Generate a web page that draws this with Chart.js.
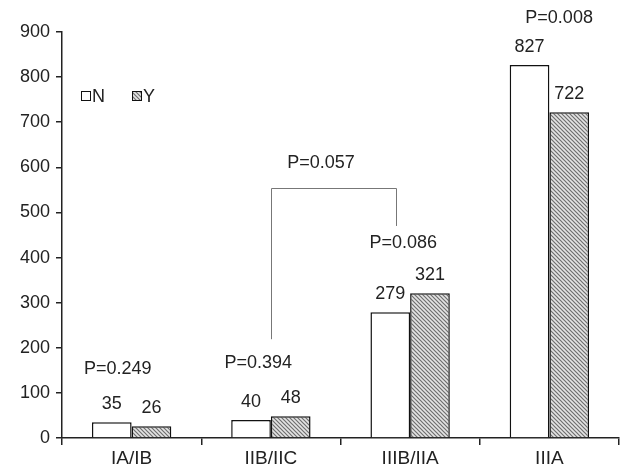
<!DOCTYPE html>
<html>
<head>
<meta charset="utf-8">
<script src="https://cdn.jsdelivr.net/npm/chart.js@4/dist/chart.umd.min.js"></script>
<style>
  html, body { margin: 0; padding: 0; background: #fff; }
  #wrap { width: 624px; height: 469px; }
</style>
</head>
<body>
<div id="wrap"><canvas id="chart" width="624" height="469"></canvas></div>
<script>
// Data
const categories = ['IA/IB', 'IIB/IIC', 'IIIB/IIA', 'IIIA'];
const seriesN = [35, 40, 279, 827];
const seriesY = [26, 48, 321, 722];
const pLabels = ['P=0.249', 'P=0.394', 'P=0.086', 'P=0.008'];
const bracketLabel = 'P=0.057';

// Annotation placement (category index offset, value on y scale)
const pLabelPos = [[-0.10, 153], [0.91, 166], [1.95, 432], [3.07, 931]];
const bracketPos = { left: 1.0, right: 1.9, top: 554, leftBottom: 219, rightBottom: 470, textX: 1.36, textY: 610 };

const FONT = '"Liberation Sans", Arial, sans-serif';
const INK = '#222';

// Hatched fill for the Y series
function makeHatch() {
  const c = document.createElement('canvas');
  c.width = 4; c.height = 4;
  const g = c.getContext('2d');
  g.fillStyle = '#e4e4e4';
  g.fillRect(0, 0, 4, 4);
  g.strokeStyle = '#6e6e6e';
  g.lineWidth = 1.2;
  g.beginPath();
  g.moveTo(0, 0); g.lineTo(4, 4);
  g.moveTo(-2, 2); g.lineTo(2, 6);
  g.moveTo(2, -2); g.lineTo(6, 2);
  g.stroke();
  return g.createPattern(c, 'repeat');
}
const hatch = makeHatch();

// Value labels, p-values, bracket and legend
const annotations = {
  id: 'annotations',
  afterDatasetsDraw(chart) {
    const ctx = chart.ctx;
    const xs = chart.scales.x, ys = chart.scales.y;
    const step = xs.getPixelForValue(1) - xs.getPixelForValue(0);
    const xAt = v => xs.getPixelForValue(0) + v * step;

    ctx.save();
    ctx.fillStyle = INK;
    ctx.font = '18px ' + FONT;
    ctx.textAlign = 'center';
    ctx.textBaseline = 'middle';

    // numbers above bars
    chart.data.datasets.forEach((ds, di) => {
      chart.getDatasetMeta(di).data.forEach((bar, i) => {
        ctx.fillText(String(ds.data[i]), bar.x, bar.y - 18);
      });
    });

    // p-values
    pLabels.forEach((t, i) => {
      const p = pLabelPos[i];
      ctx.fillText(t, xAt(p[0]), ys.getPixelForValue(p[1]));
    });

    // bracket between IIB/IIC and IIIB/IIA
    ctx.strokeStyle = '#777';
    ctx.lineWidth = 1;
    ctx.beginPath();
    ctx.moveTo(Math.round(xAt(bracketPos.left)) + 0.5, ys.getPixelForValue(bracketPos.leftBottom));
    ctx.lineTo(Math.round(xAt(bracketPos.left)) + 0.5, Math.round(ys.getPixelForValue(bracketPos.top)) + 0.5);
    ctx.lineTo(Math.round(xAt(bracketPos.right)) + 0.5, Math.round(ys.getPixelForValue(bracketPos.top)) + 0.5);
    ctx.lineTo(Math.round(xAt(bracketPos.right)) + 0.5, ys.getPixelForValue(bracketPos.rightBottom));
    ctx.stroke();
    ctx.fillText(bracketLabel, xAt(bracketPos.textX), ys.getPixelForValue(bracketPos.textY));

    // legend
    const items = [{ label: 'N', fill: '#fff', x: 81 }, { label: 'Y', fill: hatch, x: 132 }];
    ctx.textAlign = 'left';
    items.forEach(it => {
      ctx.fillStyle = it.fill;
      ctx.fillRect(it.x, 91, 10, 10);
      ctx.strokeStyle = '#111';
      ctx.lineWidth = 1;
      ctx.strokeRect(it.x + 0.5, 91.5, 9, 9);
      ctx.fillStyle = INK;
      ctx.fillText(it.label, it.x + 11, 97);
    });
    ctx.restore();
  }
};

new Chart(document.getElementById('chart'), {
  type: 'bar',
  data: {
    labels: categories,
    datasets: [
      { label: 'N', data: seriesN, backgroundColor: '#fff', borderColor: '#111', borderWidth: 1.5 },
      { label: 'Y', data: seriesY, backgroundColor: hatch, borderColor: '#111', borderWidth: 1.5 }
    ]
  },
  options: {
    responsive: false,
    animation: false,
    layout: { padding: { top: 32, right: 5, left: 0, bottom: 0 } },
    datasets: { bar: { barPercentage: 1, categoryPercentage: 0.57 } },
    plugins: { legend: { display: false }, tooltip: { enabled: false } },
    scales: {
      x: {
        grid: { display: true, drawOnChartArea: false, drawTicks: true, tickLength: 7, color: INK, lineWidth: 1.5, offset: true },
        border: { color: INK, width: 1.5 },
        ticks: { color: INK, font: { family: FONT, size: 19 }, padding: 2 },
        afterFit: s => { s.height = 31; }
      },
      y: {
        min: 0, max: 900,
        grid: { display: true, drawOnChartArea: false, drawTicks: true, tickLength: 6, color: INK, lineWidth: 1.5 },
        border: { color: INK, width: 1.5 },
        ticks: { stepSize: 100, color: INK, font: { family: FONT, size: 18 }, padding: 6 },
        afterFit: s => { s.width = 62; }
      }
    }
  },
  plugins: [annotations]
});
</script>
</body>
</html>
